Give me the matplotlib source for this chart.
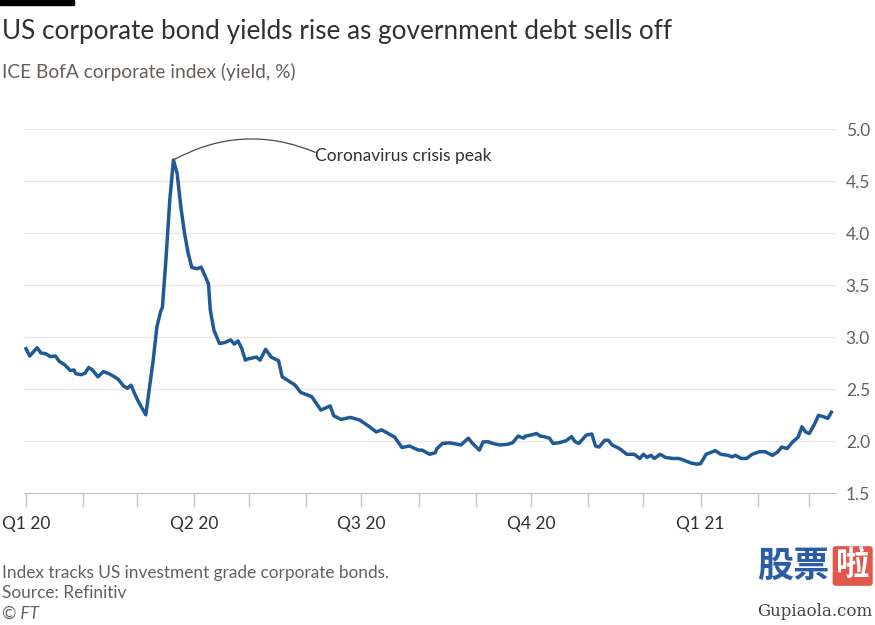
import matplotlib
matplotlib.use('Agg')
import matplotlib.pyplot as plt
import matplotlib.dates as mdates
import numpy as np
import pandas as pd

# ICE BofA US corporate index yield
dates = [
    '2020-01-01', '2020-01-03', '2020-01-07', '2020-01-09', '2020-01-12', '2020-01-14',
    '2020-01-17', '2020-01-19', '2020-01-22', '2020-01-25', '2020-01-27', '2020-01-28',
    '2020-01-31', '2020-02-02', '2020-02-04', '2020-02-06', '2020-02-09', '2020-02-12',
    '2020-02-15', '2020-02-18', '2020-02-20', '2020-02-23', '2020-02-25', '2020-02-27',
    '2020-02-29', '2020-03-02', '2020-03-04', '2020-03-06', '2020-03-08', '2020-03-10',
    '2020-03-12', '2020-03-14', '2020-03-15', '2020-03-17', '2020-03-19', '2020-03-21',
    '2020-03-23', '2020-03-25', '2020-03-27', '2020-03-29', '2020-03-31', '2020-04-03',
    '2020-04-05', '2020-04-07', '2020-04-09', '2020-04-10', '2020-04-12', '2020-04-15',
    '2020-04-18', '2020-04-21', '2020-04-23', '2020-04-25', '2020-04-27', '2020-04-29',
    '2020-04-30', '2020-05-05', '2020-05-07', '2020-05-10', '2020-05-13', '2020-05-17',
    '2020-05-19', '2020-05-23', '2020-05-26', '2020-05-29', '2020-06-04', '2020-06-09',
    '2020-06-14', '2020-06-16', '2020-06-20', '2020-06-25', '2020-06-30', '2020-07-05',
    '2020-07-09', '2020-07-12', '2020-07-19', '2020-07-23', '2020-07-27', '2020-08-01',
    '2020-08-03', '2020-08-07', '2020-08-10', '2020-08-11', '2020-08-14', '2020-08-18',
    '2020-08-21', '2020-08-24', '2020-08-28', '2020-08-30', '2020-09-03', '2020-09-05',
    '2020-09-08', '2020-09-10', '2020-09-14', '2020-09-18', '2020-09-21', '2020-09-24',
    '2020-09-27', '2020-09-28', '2020-10-01', '2020-10-04', '2020-10-06', '2020-10-08',
    '2020-10-11', '2020-10-13', '2020-10-16', '2020-10-20', '2020-10-23', '2020-10-25',
    '2020-10-27', '2020-10-31', '2020-11-03', '2020-11-05', '2020-11-07', '2020-11-10',
    '2020-11-12', '2020-11-14', '2020-11-18', '2020-11-22', '2020-11-26', '2020-11-29',
    '2020-12-01', '2020-12-03', '2020-12-05', '2020-12-07', '2020-12-10', '2020-12-13',
    '2020-12-17', '2020-12-20', '2020-12-22', '2020-12-24', '2020-12-27', '2020-12-30',
    '2021-01-01', '2021-01-04', '2021-01-09', '2021-01-12', '2021-01-16', '2021-01-18',
    '2021-01-20', '2021-01-23', '2021-01-26', '2021-01-29', '2021-02-02', '2021-02-05',
    '2021-02-09', '2021-02-12', '2021-02-14', '2021-02-17', '2021-02-20', '2021-02-23',
    '2021-02-25', '2021-02-27', '2021-03-01', '2021-03-04', '2021-03-06', '2021-03-09',
    '2021-03-11', '2021-03-13',
]
yields = [
    2.89, 2.82, 2.90, 2.85, 2.84, 2.815,
    2.82, 2.77, 2.735, 2.68, 2.686, 2.65,
    2.64, 2.655, 2.71, 2.686, 2.62, 2.67,
    2.65, 2.62, 2.597, 2.53, 2.51, 2.54,
    2.455, 2.38, 2.317, 2.255, 2.52, 2.78,
    3.10, 3.245, 3.29, 3.77, 4.32, 4.705,
    4.575, 4.255, 4.00, 3.805, 3.67, 3.66,
    3.675, 3.595, 3.515, 3.26, 3.065, 2.94,
    2.95, 2.975, 2.935, 2.965, 2.895, 2.78,
    2.79, 2.81, 2.78, 2.885, 2.81, 2.775,
    2.62, 2.575, 2.54, 2.47, 2.43, 2.30,
    2.34, 2.245, 2.21, 2.23, 2.205, 2.145,
    2.09, 2.11, 2.04, 1.94, 1.955, 1.915,
    1.915, 1.875, 1.89, 1.93, 1.98, 1.985,
    1.975, 1.965, 2.03, 1.985, 1.915, 1.995,
    1.995, 1.98, 1.965, 1.97, 1.985, 2.05,
    2.03, 2.05, 2.06, 2.075, 2.05, 2.045,
    2.03, 1.98, 1.985, 2.005, 2.045, 1.995,
    1.98, 2.06, 2.07, 1.955, 1.945, 2.01,
    2.01, 1.965, 1.93, 1.875, 1.875, 1.835,
    1.875, 1.845, 1.865, 1.835, 1.875, 1.845,
    1.835, 1.835, 1.825, 1.81, 1.79, 1.78,
    1.785, 1.875, 1.91, 1.875, 1.865, 1.85,
    1.865, 1.835, 1.835, 1.875, 1.90, 1.90,
    1.865, 1.90, 1.945, 1.93, 1.995, 2.04,
    2.14, 2.09, 2.075, 2.17, 2.25, 2.235,
    2.22, 2.28,
]
y_ticks = [1.5, 2.0, 2.5, 3.0, 3.5, 4.0, 4.5, 5.0]

title = 'US corporate bond yields rise as government debt sells off'
subtitle = 'ICE BofA corporate index (yield, %)'
note = 'Coronavirus crisis peak'
footer = ['Index tracks US investment grade corporate bonds.', 'Source: Refinitiv']

FT_BLUE = '#1f5a96'
TEXT = '#33302e'
GREY = '#66605c'

plt.rcParams['font.family'] = ['Lato', 'DejaVu Sans']

df = pd.DataFrame({'date': pd.to_datetime(dates), 'yield': yields})

fig = plt.figure(figsize=(8.75, 6.25), dpi=100)
ax = fig.add_axes([24 / 875, 1 - 493.3 / 625, (836 - 24) / 875, (493.3 - 129.3) / 625])

ax.plot(df['date'], df['yield'], color=FT_BLUE, lw=2.5, solid_joinstyle='round', zorder=3)

# axes look
start = pd.Timestamp('2020-01-01')
ax.set_xlim(start - pd.Timedelta(days=1.1), start + pd.Timedelta(days=439.5))
ax.set_ylim(y_ticks[0], y_ticks[-1])
ax.yaxis.tick_right()
ax.set_yticks(y_ticks)
ax.set_yticklabels(['%.1f' % v for v in y_ticks])
ax.tick_params(axis='y', length=0, pad=7, labelsize=12.5, labelcolor=GREY)
ax.grid(axis='y', color='#ebe8e5', lw=1, zorder=0)

for s in ['top', 'left', 'right']:
    ax.spines[s].set_visible(False)
ax.spines['bottom'].set_color('#c8c5c2')
ax.spines['bottom'].set_zorder(1)

ax.xaxis.set_major_locator(mdates.MonthLocator(bymonth=[1, 4, 7, 10]))
ax.xaxis.set_minor_locator(mdates.MonthLocator())
ax.xaxis.set_major_formatter(plt.FuncFormatter(
    lambda x, pos: 'Q%d %02d' % ((mdates.num2date(x).month - 1) // 3 + 1, mdates.num2date(x).year % 100)))
ax.tick_params(axis='x', which='both', length=10, width=1, color='#c8c5c2')
ax.tick_params(axis='x', which='major', pad=6, labelsize=12.5, labelcolor=TEXT)

# peak annotation
i_peak = int(np.argmax(df['yield']))
ax.annotate(note, xy=(df['date'][i_peak], df['yield'][i_peak]),
            xytext=(pd.Timestamp('2020-06-06'), 4.74), ha='left', va='center',
            fontsize=12.5, color=TEXT,
            arrowprops=dict(arrowstyle='-', connectionstyle='arc3,rad=0.24',
                            relpos=(0, 0.75), patchA=None,
                            color='#4d4845', lw=0.9, shrinkA=0, shrinkB=0))

# titles and footer
fig.patches.append(plt.Rectangle((0, 1 - 5 / 625), 74 / 875, 5 / 625, transform=fig.transFigure,
                                 color='black'))
fig.text(2 / 875, 1 - 32 / 625, title, fontsize=18.8, color=TEXT, va='center')
fig.text(2 / 875, 1 - 72 / 625, subtitle, fontsize=13.8, color=GREY, va='center')
fig.text(2 / 875, 1 - 573 / 625, footer[0], fontsize=12.4, color=GREY, va='center')
fig.text(2 / 875, 1 - 593 / 625, footer[1], fontsize=12.4, color=GREY, va='center')
fig.text(2 / 875, 1 - 614 / 625, '© FT', fontsize=12.4, color=GREY, va='center', style='italic')

# site watermark
fig.text(757 / 875, 1 - 566 / 625, '股票', fontsize=26, color='#2b5ca8', va='center',
         family=['Noto Sans CJK SC'], weight='bold')
fig.text(836 / 875, 1 - 566 / 625, '啦', fontsize=24, color='white', va='center',
         family=['Noto Sans CJK SC'], weight='bold',
         bbox=dict(boxstyle='round,pad=0.1', fc='#e0574b', ec='none'))
fig.text(815 / 875, 1 - 612 / 625, 'Gupiaola.com', fontsize=12, color='#444444',
         ha='center', va='center', family=['DejaVu Serif'])

fig.savefig('out.png', dpi=100, facecolor='white')
